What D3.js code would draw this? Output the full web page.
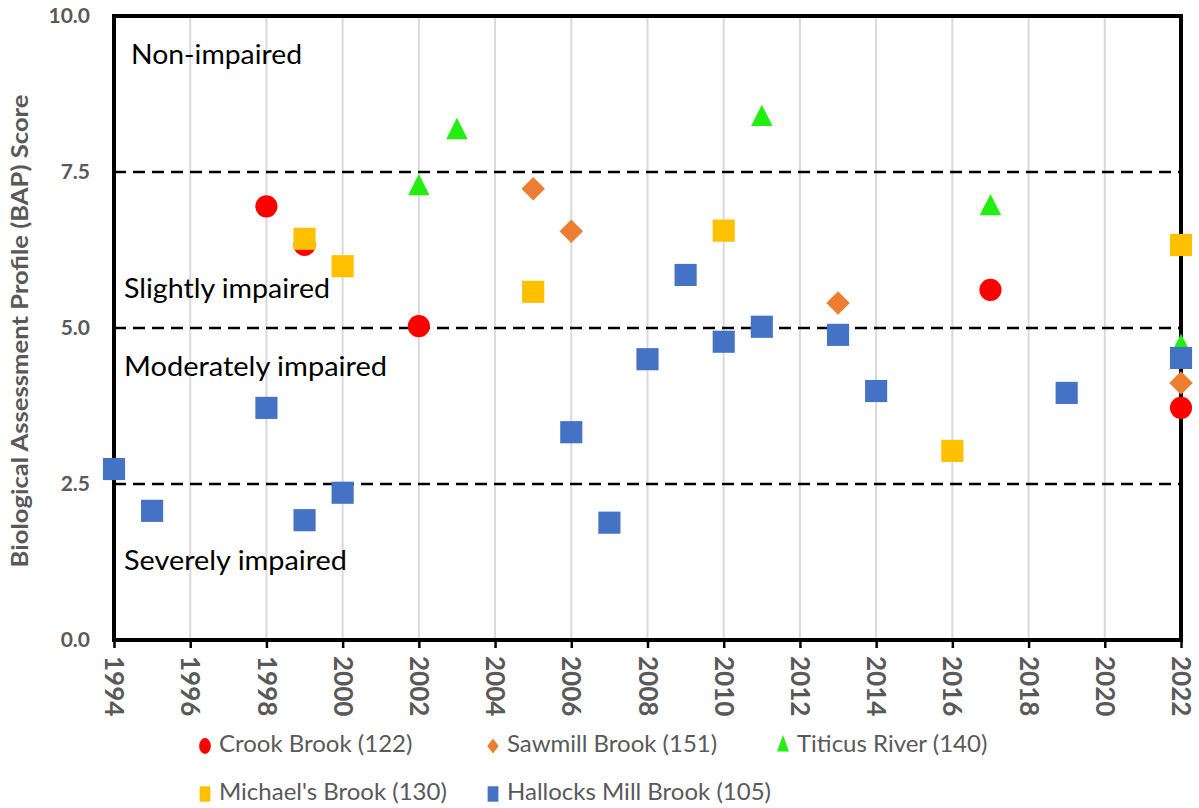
<!DOCTYPE html>
<html>
<head>
<meta charset="utf-8">
<script src="https://cdn.jsdelivr.net/npm/d3@7"></script>
<style>
  html, body { margin: 0; padding: 0; background: #fff; }
  svg { display: block; font-family: Lato, "Open Sans", sans-serif; }
</style>
</head>
<body>
<svg id="chart" width="1199" height="808"></svg>
<script>
// BAP scores by site and sampling year
const crookYears = [1998, 1999, 2002, 2017, 2022];
const crookScores = [6.95, 6.33, 5.03, 5.61, 3.72];

const sawmillYears = [2005, 2006, 2013, 2022];
const sawmillScores = [7.23, 6.55, 5.40, 4.12];

const titicusYears = [2002, 2003, 2011, 2017, 2022];
const titicusScores = [7.24, 8.14, 8.35, 6.92, 4.68];

const michaelsYears = [1999, 2000, 2005, 2010, 2016, 2022];
const michaelsScores = [6.43, 5.99, 5.58, 6.56, 3.03, 6.33];

const hallocksYears = [1994, 1995, 1998, 1999, 2000, 2006, 2007, 2008, 2009, 2010, 2011, 2013, 2014, 2019, 2022];
const hallocksScores = [2.74, 2.07, 3.72, 1.92, 2.36, 3.33, 1.88, 4.50, 5.85, 4.78, 5.02, 4.89, 3.99, 3.96, 4.52];

const yTicks = [0, 2.5, 5, 7.5, 10];
const xTicks = d3.range(1994, 2023, 2);
const thresholds = [2.5, 5, 7.5];
const zoneLabels = [
  { text: "Non-impaired", value: 9.33, dx: 17, len: 171 },
  { text: "Slightly impaired", value: 5.58, dx: 10, len: 206 },
  { text: "Moderately impaired", value: 4.34, dx: 10, len: 263 },
  { text: "Severely impaired", value: 1.23, dx: 10, len: 223 }
];

const series = [
  { name: "Crook Brook (122)", shape: "circle", color: "#ff0000", years: crookYears, scores: crookScores },
  { name: "Sawmill Brook (151)", shape: "diamond", color: "#ed7d31", years: sawmillYears, scores: sawmillScores },
  { name: "Titicus River (140)", shape: "triangle", color: "#22ee11", years: titicusYears, scores: titicusScores },
  { name: "Michael's Brook (130)", shape: "square", color: "#ffc000", years: michaelsYears, scores: michaelsScores },
  { name: "Hallocks Mill Brook (105)", shape: "square", color: "#4472c4", years: hallocksYears, scores: hallocksScores }
];

const svg = d3.select("#chart");
const W = 1199, H = 808;
const plot = { left: 114, right: 1181, top: 16, bottom: 640 };

const x = d3.scaleLinear().domain([1994, 2022]).range([plot.left, plot.right]);
const y = d3.scaleLinear().domain([0, 10]).range([plot.bottom, plot.top]);

svg.append("rect").attr("width", W).attr("height", H).attr("fill", "#fff");

// vertical gridlines
svg.append("g")
  .selectAll("line")
  .data(xTicks.slice(1, -1))
  .join("line")
  .attr("x1", d => x(d)).attr("x2", d => x(d))
  .attr("y1", plot.top).attr("y2", plot.bottom)
  .attr("stroke", "#d9d9d9").attr("stroke-width", 2);

// impairment thresholds
svg.append("g")
  .selectAll("line")
  .data(thresholds)
  .join("line")
  .attr("x1", plot.left).attr("x2", plot.right)
  .attr("y1", d => y(d)).attr("y2", d => y(d))
  .attr("stroke", "#000").attr("stroke-width", 2.6)
  .attr("stroke-dasharray", "12,7");

// zone labels
svg.append("g")
  .selectAll("text")
  .data(zoneLabels)
  .join("text")
  .attr("x", d => plot.left + d.dx)
  .attr("y", d => y(d.value))
  .attr("dominant-baseline", "middle")
  .attr("font-size", 26)
  .attr("textLength", d => d.len)
  .attr("lengthAdjust", "spacingAndGlyphs")
  .attr("fill", "#000")
  .text(d => d.text);

// x axis with rotated year labels
const xAxis = svg.append("g")
  .attr("transform", `translate(0,${plot.bottom})`)
  .call(d3.axisBottom(x).tickValues(xTicks).tickFormat(d3.format("d")).tickSize(8).tickPadding(6));
xAxis.select(".domain").remove();
xAxis.selectAll(".tick line").attr("stroke", "#000").attr("stroke-width", 2.5);
xAxis.selectAll(".tick text")
  .attr("transform", "rotate(90)")
  .attr("x", 16).attr("y", 0).attr("dy", "0.36em")
  .attr("text-anchor", "start")
  .attr("fill", "#595959")
  .attr("font-size", 26)
  .attr("font-weight", 700)
  .attr("font-family", "Lato, sans-serif");

// y axis labels
const yAxis = svg.append("g")
  .attr("transform", `translate(${plot.left},0)`)
  .call(d3.axisLeft(y).tickValues(yTicks).tickFormat(d3.format(".1f")).tickSize(0).tickPadding(24));
yAxis.select(".domain").remove();
yAxis.selectAll(".tick text")
  .attr("fill", "#595959")
  .attr("font-size", 21)
  .attr("font-weight", 700)
  .attr("font-family", "Lato, sans-serif");

// plot frame
svg.append("rect")
  .attr("x", plot.left).attr("y", plot.top)
  .attr("width", plot.right - plot.left).attr("height", plot.bottom - plot.top)
  .attr("fill", "none").attr("stroke", "#000").attr("stroke-width", 4);

// axis title
svg.append("text")
  .attr("transform", `translate(22,331) rotate(-90)`)
  .attr("text-anchor", "middle")
  .attr("dominant-baseline", "middle")
  .attr("fill", "#595959")
  .attr("font-size", 23)
  .attr("font-weight", 700)
  .attr("textLength", 473)
  .attr("lengthAdjust", "spacingAndGlyphs")
  .text("Biological Assessment Profile (BAP) Score");

const symbolFor = {
  circle: d3.symbolCircle,
  diamond: d3.symbolSquare,
  triangle: d3.symbolTriangle,
  square: d3.symbolSquare
};
const areaFor = { circle: 385, diamond: 275, triangle: 200, square: 490 };
const shapeTransform = { circle: "", diamond: " rotate(45)", triangle: " scale(1,1.15)", square: "" };

// data markers
series.forEach(s => {
  const pts = s.years.map((yr, i) => ({ yr, v: s.scores[i] }));
  svg.append("g")
    .selectAll("path")
    .data(pts)
    .join("path")
    .attr("d", d3.symbol().type(symbolFor[s.shape]).size(areaFor[s.shape]))
    .attr("transform", d => `translate(${x(d.yr)},${y(d.v)})` + shapeTransform[s.shape])
    .attr("fill", s.color);
});

// legend
const legendPos = [
  { x: 205, y: 746 }, { x: 493, y: 746 }, { x: 783, y: 746 },
  { x: 205, y: 794 }, { x: 493, y: 794 }
];
const legendArea = { circle: 150, diamond: 90, triangle: 95, square: 180 };
const legendTransform = {
  circle: "scale(0.85,1.15)",
  diamond: "scale(0.85,1.1) rotate(45)",
  triangle: "scale(0.8,1.3)",
  square: "scale(0.8,1.15)"
};
const lg = svg.append("g");
series.forEach((s, i) => {
  const p = legendPos[i];
  const item = lg.append("g").attr("transform", `translate(${p.x},${p.y})`);
  item.append("path")
    .attr("d", d3.symbol().type(symbolFor[s.shape]).size(legendArea[s.shape]))
    .attr("transform", legendTransform[s.shape])
    .attr("fill", s.color);
  item.append("text")
    .attr("x", 14)
    .attr("y", 0)
    .attr("dominant-baseline", "middle")
    .attr("fill", "#595959")
    .attr("font-size", 24)
    .text(s.name);
});
</script>
</body>
</html>
